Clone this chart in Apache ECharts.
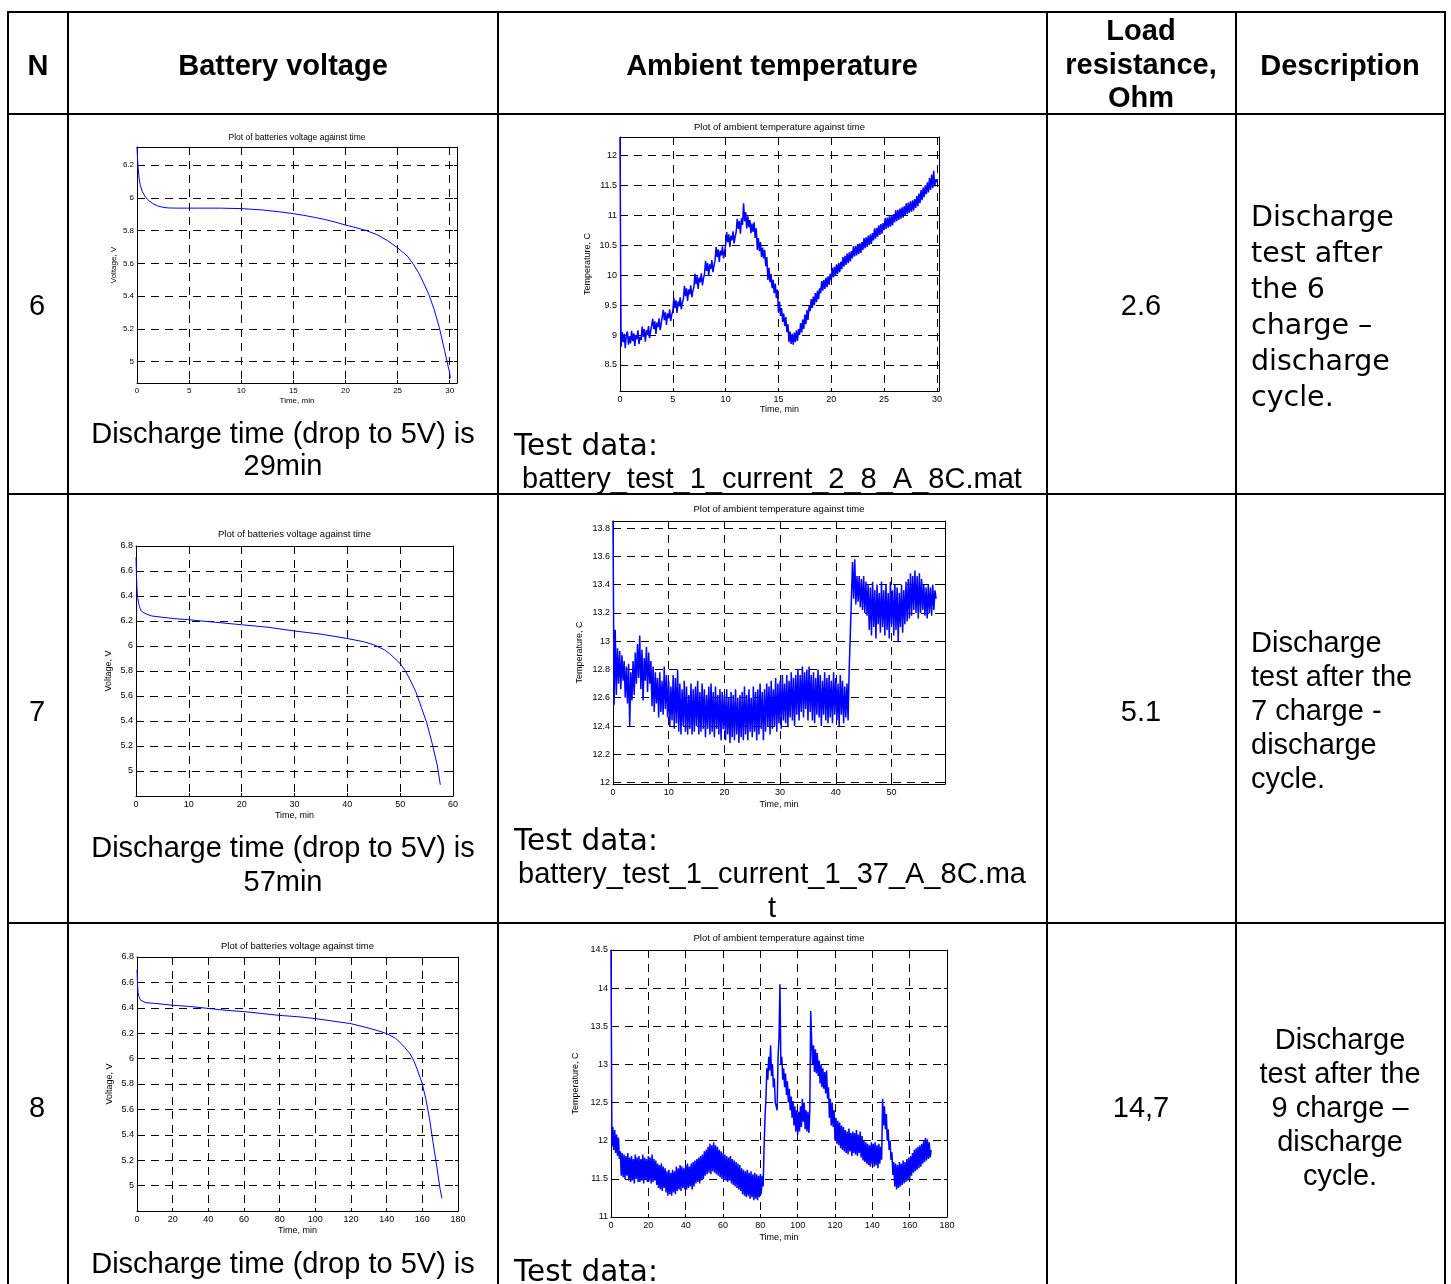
<!DOCTYPE html>
<html><head><meta charset="utf-8">
<script src="https://cdn.jsdelivr.net/npm/echarts@6/dist/echarts.min.js"></script>
<style>html,body{margin:0;padding:0;background:#fff}#c{width:1451px;height:1284px}</style>
</head><body><div id="c"></div><script>
// ---------------- DATA ----------------
// Row 6: battery voltage (V) vs time (min)
const volt6Time = [0, 0.05, 0.1, 0.2, 0.3, 0.5, 0.75, 1, 1.5, 2, 2.5, 3, 4, 5, 6, 8, 10, 12, 14, 15, 16, 17, 18, 19, 20, 21, 22, 23, 24, 24.5, 25, 25.5, 26, 26.5, 27, 27.5, 28, 28.5, 29, 29.5, 30, 30.05];
const volt6Values = [6.31, 6.24, 6.19, 6.12, 6.08, 6.04, 6.01, 5.99, 5.965, 5.95, 5.942, 5.938, 5.937, 5.937, 5.937, 5.937, 5.934, 5.926, 5.912, 5.903, 5.893, 5.881, 5.868, 5.852, 5.834, 5.818, 5.80, 5.776, 5.74, 5.718, 5.695, 5.668, 5.64, 5.595, 5.545, 5.48, 5.41, 5.32, 5.21, 5.07, 4.93, 4.90];
// Row 7
const volt7Time = [0, 0.1, 0.2, 0.3, 0.5, 0.7, 1, 1.5, 2, 3, 5, 7, 10, 15, 20, 25, 30, 35, 40, 43, 45, 46, 47, 48, 49, 50, 51, 52, 53, 54, 55, 56, 57, 57.6];
const volt7Values = [6.71, 6.55, 6.45, 6.39, 6.34, 6.31, 6.28, 6.265, 6.255, 6.24, 6.23, 6.22, 6.21, 6.19, 6.17, 6.15, 6.12, 6.095, 6.06, 6.035, 6.01, 5.99, 5.97, 5.94, 5.90, 5.86, 5.80, 5.72, 5.63, 5.51, 5.39, 5.23, 5.05, 4.89];
// Row 8
const volt8Time = [0, 0.3, 0.6, 1, 2, 3, 5, 10, 20, 30, 40, 50, 60, 70, 80, 90, 100, 110, 120, 130, 135, 140, 145, 148, 150, 153, 155, 157, 159, 160, 162, 164, 166, 168, 170, 171];
const volt8Values = [6.70, 6.58, 6.52, 6.49, 6.46, 6.45, 6.44, 6.435, 6.42, 6.41, 6.395, 6.38, 6.37, 6.355, 6.34, 6.33, 6.315, 6.295, 6.275, 6.24, 6.22, 6.197, 6.16, 6.12, 6.09, 6.04, 5.99, 5.92, 5.84, 5.80, 5.68, 5.53, 5.34, 5.16, 4.97, 4.90];

// Ambient temperature (C), recorded at a fixed sampling interval (min)
const temp6SampleMin = 0.1;
const temp6Values = [
 12.30, 8.80, 9.05, 8.88, 9.02, 8.78, 9.00, 9.06, 8.84, 8.98,
 8.86, 9.07, 8.90, 9.03, 8.82, 9.00, 8.93, 9.08, 8.85, 8.97,
 8.92, 9.14, 8.97, 9.10, 8.89, 9.08, 9.00, 9.15, 8.95, 9.06,
 9.05, 9.27, 9.10, 9.23, 9.02, 9.21, 9.13, 9.28, 9.08, 9.19,
 9.20, 9.42, 9.25, 9.38, 9.17, 9.36, 9.28, 9.43, 9.23, 9.34,
 9.40, 9.62, 9.45, 9.58, 9.37, 9.56, 9.48, 9.63, 9.43, 9.54,
 9.60, 9.82, 9.65, 9.78, 9.57, 9.76, 9.68, 9.83, 9.63, 9.74,
 9.80, 10.02, 9.85, 9.98, 9.77, 9.96, 9.88, 10.03, 9.83, 9.94,
 10.02, 10.24, 10.07, 10.20, 9.99, 10.18, 10.10, 10.25, 10.05, 10.16,
 10.25, 10.47, 10.30, 10.43, 10.22, 10.41, 10.33, 10.48, 10.28, 10.39,
 10.50, 10.72, 10.55, 10.68, 10.47, 10.66, 10.58, 10.73, 10.53, 10.64,
 10.72, 10.94, 10.77, 10.90, 10.69, 10.95, 10.84, 11.20, 10.90, 11.05,
 10.78, 10.98, 10.80, 10.92, 10.70, 10.86, 10.72, 10.88, 10.62, 10.78,
 10.42, 10.62, 10.40, 10.55, 10.30, 10.46, 10.28, 10.42, 10.15, 10.30,
 9.92, 10.12, 9.88, 10.02, 9.78, 9.92, 9.70, 9.86, 9.62, 9.76,
 9.38, 9.56, 9.32, 9.45, 9.22, 9.36, 9.15, 9.30, 9.05, 9.18,
 8.88, 9.06, 8.85, 9.02, 8.84, 9.04, 8.88, 9.08, 8.90, 9.10,
 9.00, 9.20, 9.04, 9.26, 9.10, 9.34, 9.18, 9.42, 9.25, 9.48,
 9.40, 9.60, 9.45, 9.64, 9.50, 9.70, 9.55, 9.74, 9.60, 9.78,
 9.70, 9.90, 9.74, 9.92, 9.77, 9.96, 9.80, 9.98, 9.84, 10.02,
 9.92, 10.12, 9.96, 10.14, 9.99, 10.18, 10.02, 10.20, 10.05, 10.22,
 10.10, 10.30, 10.14, 10.32, 10.17, 10.36, 10.20, 10.38, 10.23, 10.40,
 10.28, 10.48, 10.31, 10.49, 10.33, 10.52, 10.35, 10.53, 10.37, 10.55,
 10.42, 10.62, 10.45, 10.63, 10.47, 10.66, 10.50, 10.68, 10.52, 10.70,
 10.58, 10.78, 10.61, 10.79, 10.64, 10.83, 10.67, 10.85, 10.69, 10.87,
 10.75, 10.95, 10.77, 10.96, 10.79, 10.98, 10.81, 11.00, 10.83, 11.02,
 10.88, 11.08, 10.90, 11.09, 10.92, 11.11, 10.94, 11.13, 10.96, 11.15,
 11.00, 11.20, 11.02, 11.21, 11.04, 11.23, 11.06, 11.25, 11.08, 11.27,
 11.12, 11.32, 11.15, 11.36, 11.20, 11.42, 11.25, 11.46, 11.30, 11.50,
 11.35, 11.55, 11.38, 11.62, 11.42, 11.68, 11.45, 11.74, 11.48, 11.60,
 11.55];
const temp7SampleMin = 0.2;
const temp7Values = [
 13.85, 12.55, 13.08, 12.62, 12.95,  12.70, 12.93, 12.66, 12.90, 12.72,
 12.86, 12.60, 12.82, 12.56, 12.84,  12.40, 12.78, 12.58, 12.86, 12.62,
 12.92, 12.70, 12.98, 12.74, 13.04,  12.66, 12.94, 12.58, 12.88, 12.72,
 12.96, 12.64, 12.92, 12.70, 12.86,  12.54, 12.82, 12.50, 12.78, 12.56,
 12.74, 12.46, 12.78, 12.50, 12.72,  12.48, 12.82, 12.52, 12.76, 12.46,
 12.72, 12.40, 12.68, 12.44, 12.76,  12.38, 12.74, 12.42, 12.80, 12.36,
 12.70, 12.34, 12.66, 12.40, 12.72,  12.36, 12.68, 12.34, 12.62, 12.38,
 12.70, 12.34, 12.66, 12.36, 12.68,  12.40, 12.72, 12.34, 12.64, 12.36,
 12.70, 12.38, 12.66, 12.32, 12.62,  12.38, 12.68, 12.34, 12.70, 12.36,
 12.64, 12.32, 12.68, 12.38, 12.62,  12.34, 12.66, 12.30, 12.64, 12.38,
 12.62, 12.30, 12.66, 12.34, 12.60,  12.28, 12.64, 12.32, 12.62, 12.30,
 12.66, 12.34, 12.60, 12.28, 12.62,  12.32, 12.64, 12.30, 12.68, 12.34,
 12.62, 12.30, 12.66, 12.36, 12.60,  12.32, 12.68, 12.36, 12.64, 12.30,
 12.66, 12.34, 12.70, 12.38, 12.64,  12.30, 12.66, 12.36, 12.70, 12.40,
 12.68, 12.34, 12.72, 12.38, 12.66,  12.40, 12.74, 12.36, 12.70, 12.42,
 12.72, 12.38, 12.76, 12.44, 12.70,  12.42, 12.76, 12.40, 12.72, 12.46,
 12.78, 12.44, 12.74, 12.40, 12.76,  12.48, 12.80, 12.44, 12.76, 12.50,
 12.82, 12.46, 12.78, 12.52, 12.80,  12.44, 12.82, 12.50, 12.76, 12.44,
 12.78, 12.42, 12.74, 12.48, 12.80,  12.46, 12.76, 12.40, 12.72, 12.48,
 12.78, 12.44, 12.74, 12.42, 12.76,  12.46, 12.72, 12.42, 12.78, 12.48,
 12.74, 12.44, 12.70, 12.40, 12.76,  12.48, 12.72, 12.42, 12.68, 12.46,
 12.70, 12.44, 12.80, 13.05, 13.30,  13.56, 13.30, 13.58, 13.26, 13.46,
 13.28, 13.46, 13.24, 13.44, 13.22,  13.46, 13.20, 13.42, 13.18, 13.40,
 13.08, 13.38, 13.04, 13.42, 13.10,  13.36, 13.02, 13.40, 13.12, 13.34,
 13.06, 13.42, 13.10, 13.36, 13.04,  13.40, 13.08, 13.34, 13.02, 13.42,
 13.12, 13.36, 13.04, 13.40, 13.08,  13.38, 13.00, 13.34, 13.10, 13.40,
 13.06, 13.36, 13.12, 13.42, 13.14,  13.44, 13.16, 13.48, 13.18, 13.46,
 13.22, 13.50, 13.20, 13.46, 13.16,  13.48, 13.20, 13.44, 13.22, 13.40,
 13.18, 13.38, 13.16, 13.40, 13.20,  13.38, 13.18, 13.40, 13.22, 13.36,
 13.30];
const temp8SampleMin = 0.5;
const temp8Values = [
 14.50, 11.92, 12.18, 11.88, 12.14, 11.84, 12.08, 11.80, 12.04, 11.76,
 11.86, 11.54, 11.84, 11.52, 11.82, 11.50, 11.80, 11.54, 11.84, 11.48,
 11.78, 11.46, 11.80, 11.48, 11.76, 11.44, 11.82, 11.50, 11.78, 11.46,
 11.80, 11.46, 11.76, 11.48, 11.82, 11.44, 11.78, 11.50, 11.76, 11.46,
 11.80, 11.48, 11.78, 11.44, 11.82, 11.46, 11.76, 11.48, 11.74, 11.42,
 11.70, 11.38, 11.68, 11.36, 11.70, 11.34, 11.66, 11.38, 11.64, 11.32,
 11.60, 11.28, 11.62, 11.30, 11.58, 11.28, 11.62, 11.32, 11.60, 11.30,
 11.66, 11.34, 11.64, 11.36, 11.68, 11.34, 11.66, 11.38, 11.64, 11.36,
 11.68, 11.36, 11.70, 11.38, 11.66, 11.40, 11.70, 11.36, 11.72, 11.40,
 11.74, 11.44, 11.76, 11.46, 11.78, 11.44, 11.80, 11.48, 11.82, 11.50,
 11.86, 11.54, 11.88, 11.56, 11.92, 11.58, 11.96, 11.56, 11.94, 11.60,
 11.98, 11.58, 11.94, 11.56, 11.92, 11.54, 11.88, 11.52, 11.86, 11.50,
 11.84, 11.50, 11.82, 11.48, 11.80, 11.46, 11.78, 11.48, 11.80, 11.44,
 11.76, 11.42, 11.74, 11.40, 11.72, 11.38, 11.70, 11.36, 11.68, 11.34,
 11.64, 11.30, 11.62, 11.28, 11.60, 11.26, 11.62, 11.28, 11.58, 11.24,
 11.60, 11.26, 11.56, 11.22, 11.58, 11.24, 11.56, 11.22, 11.54, 11.26,
 11.56, 11.30, 11.54, 11.40, 11.90, 12.30, 12.55, 12.95, 12.80, 13.10,
 12.92, 13.25, 12.85, 13.00, 12.70, 12.82, 12.50, 12.45, 12.40, 13.10,
 13.35, 14.05, 13.00, 13.10, 12.80, 12.95, 12.70, 12.88, 12.60, 12.78,
 12.50, 12.68, 12.40, 12.58, 12.30, 12.52, 12.20, 12.45, 12.12, 12.40,
 12.08, 12.38, 12.12, 12.45, 12.18, 12.55, 12.25, 12.50, 12.15, 12.40,
 12.12, 12.38, 12.10, 12.40, 13.70, 13.30, 13.00, 13.25, 12.90, 13.20,
 12.88, 13.15, 12.85, 13.05, 12.75, 13.00, 12.70, 12.95, 12.68, 12.90,
 12.62, 12.92, 12.55, 12.70, 12.30, 12.55, 12.20, 12.50, 12.18, 12.40,
 12.00, 12.30, 11.96, 12.26, 11.94, 12.24, 11.90, 12.20, 11.88, 12.18,
 11.86, 12.14, 11.84, 12.12, 11.82, 12.16, 11.86, 12.10, 11.80, 12.12,
 11.84, 12.10, 11.82, 12.14, 11.80, 12.08, 11.84, 12.12, 11.78, 12.06,
 11.74, 12.00, 11.72, 11.98, 11.70, 11.96, 11.68, 11.94, 11.66, 11.98,
 11.70, 11.96, 11.66, 11.98, 11.68, 11.94, 11.64, 11.96, 11.70, 11.92,
 11.75, 12.55, 12.20, 12.45, 12.15, 12.35, 12.00, 12.15, 11.88, 12.00,
 11.75, 11.85, 11.55, 11.72, 11.40, 11.70, 11.36, 11.68, 11.38, 11.72,
 11.40, 11.70, 11.42, 11.74, 11.44, 11.72, 11.46, 11.76, 11.48, 11.78,
 11.50, 11.80, 11.54, 11.84, 11.58, 11.88, 11.60, 11.90, 11.62, 11.92,
 11.64, 11.94, 11.66, 11.96, 11.70, 12.00, 11.72, 12.04, 11.74, 12.02,
 11.76, 11.98, 11.78, 11.88];

// Tick values
const volt6XTicks = [0, 5, 10, 15, 20, 25, 30];
const volt6YTicks = [5, 5.2, 5.4, 5.6, 5.8, 6, 6.2];
const temp6XTicks = [0, 5, 10, 15, 20, 25, 30];
const temp6YTicks = [8.5, 9, 9.5, 10, 10.5, 11, 11.5, 12];
const volt7XTicks = [0, 10, 20, 30, 40, 50, 60];
const volt7YTicks = [5, 5.2, 5.4, 5.6, 5.8, 6, 6.2, 6.4, 6.6, 6.8];
const temp7XTicks = [0, 10, 20, 30, 40, 50];
const temp7YTicks = [12, 12.2, 12.4, 12.6, 12.8, 13, 13.2, 13.4, 13.6, 13.8];
const volt8XTicks = [0, 20, 40, 60, 80, 100, 120, 140, 160, 180];
const volt8YTicks = [5, 5.2, 5.4, 5.6, 5.8, 6, 6.2, 6.4, 6.6, 6.8];
const temp8XTicks = [0, 20, 40, 60, 80, 100, 120, 140, 160, 180];
const temp8YTicks = [11, 11.5, 12, 12.5, 13, 13.5, 14, 14.5];

// Table texts
const headers = ['N', 'Battery voltage', 'Ambient temperature', 'Load\nresistance,\nOhm', 'Description'];
const rowNumbers = ['6', '7', '8'];
const loadResistance = ['2.6', '5.1', '14,7'];
const dischargeTexts = ['Discharge time (drop to 5V) is\n29min', 'Discharge time (drop to 5V) is\n57min', 'Discharge time (drop to 5V) is'];
const testFiles = [' battery_test_1_current_2_8_A_8C.mat', 'battery_test_1_current_1_37_A_8C.ma', ''];
const descriptions = ['Discharge\ntest after\nthe 6\ncharge \u2013\ndischarge\ncycle.',
  'Discharge\ntest after the\n7 charge -\ndischarge\ncycle.',
  'Discharge\ntest after the\n9 charge \u2013\ndischarge\ncycle.'];
const voltTitle = 'Plot of batteries voltage against time';
const tempTitle = 'Plot of ambient temperature against time';

// ---------------- BUILD ----------------
const ARIAL = '"Liberation Sans", Arial, Helvetica, sans-serif';
const VERD = '"DejaVu Sans", Verdana, sans-serif';
const zip = (xs, ys) => xs.map((x, i) => [x, ys[i]]);
const sampled = (vals, dt) => vals.map((v, i) => [Math.round(i * dt * 100) / 100, v]);
const fmt = v => String(parseFloat(Number(v).toFixed(3)));

const plots = [
  {box: [137, 147, 320, 236], x: [0, 30.7], y: [4.87, 6.31], xt: volt6XTicks, yt: volt6YTicks, fs: 8, yName: 'Voltage, V', xGap: 14, yGap: 19,
   title: voltTitle, titleY: 138, lw: 1, data: zip(volt6Time, volt6Values)},
  {box: [620, 137, 319, 254], x: [0, 30.2], y: [8.066, 12.305], xt: temp6XTicks, yt: temp6YTicks, fs: 9, yName: 'Temperature, C', xGap: 14, yGap: 28,
   title: tempTitle, titleY: 127, lw: 1.5, data: sampled(temp6Values, temp6SampleMin)},
  {box: [136, 546, 317, 250], x: [0, 60], y: [4.8, 6.8], xt: volt7XTicks, yt: volt7YTicks, fs: 9, yName: 'Voltage, V', xGap: 15, yGap: 23,
   title: voltTitle, titleY: 534, lw: 1, data: zip(volt7Time, volt7Values)},
  {box: [613, 521, 332, 263], x: [0, 59.6], y: [11.99, 13.85], xt: temp7XTicks, yt: temp7YTicks, fs: 9, yName: 'Temperature, C', xGap: 16, yGap: 29,
   title: tempTitle, titleY: 509, lw: 1.5, data: sampled(temp7Values, temp7SampleMin)},
  {box: [137, 957, 321, 254], x: [0, 180], y: [4.8, 6.8], xt: volt8XTicks, yt: volt8YTicks, fs: 9, yName: 'Voltage, V', xGap: 15, yGap: 23,
   title: voltTitle, titleY: 946, lw: 1, data: zip(volt8Time, volt8Values)},
  {box: [611, 950, 336, 267], x: [0, 180], y: [11, 14.5], xt: temp8XTicks, yt: temp8YTicks, fs: 9, yName: 'Temperature, C', xGap: 16, yGap: 31,
   title: tempTitle, titleY: 938, lw: 1.5, data: sampled(temp8Values, temp8SampleMin)}
];

const grid = [], xAxis = [], yAxis = [], series = [], graphic = [];
const dash = [8, 6];
plots.forEach((p, g) => {
  grid.push({left: p.box[0], top: p.box[1], width: p.box[2], height: p.box[3], containLabel: false});
  const lineBlack = {show: true, onZero: false, lineStyle: {color: '#000', width: 1}};
  const lab = {fontSize: p.fs, color: '#000', fontFamily: ARIAL};
  xAxis.push({type: 'value', gridIndex: g, position: 'bottom', min: p.x[0], max: p.x[1],
    axisLine: lineBlack,
    axisTick: {show: true, inside: true, length: 3, customValues: p.xt, lineStyle: {color: '#000'}},
    axisLabel: Object.assign({customValues: p.xt, margin: 4, formatter: fmt}, lab),
    splitLine: {show: true, lineStyle: {color: '#000', width: 1, type: dash}},
    name: 'Time, min', nameLocation: 'middle', nameGap: p.xGap, nameTextStyle: lab});
  xAxis.push({type: 'value', gridIndex: g, position: 'top', min: p.x[0], max: p.x[1],
    axisLine: lineBlack,
    axisTick: {show: true, inside: true, length: 3, customValues: p.xt, lineStyle: {color: '#000'}},
    axisLabel: {show: false}, splitLine: {show: false}});
  yAxis.push({type: 'value', gridIndex: g, position: 'left', min: p.y[0], max: p.y[1],
    axisLine: lineBlack,
    axisTick: {show: true, inside: true, length: 3, customValues: p.yt, lineStyle: {color: '#000'}},
    axisLabel: Object.assign({customValues: p.yt, margin: 3, formatter: fmt}, lab),
    splitLine: {show: true, lineStyle: {color: '#000', width: 1, type: dash}},
    name: p.yName, nameLocation: 'middle', nameGap: p.yGap, nameRotate: 90, nameTextStyle: lab});
  yAxis.push({type: 'value', gridIndex: g, position: 'right', min: p.y[0], max: p.y[1],
    axisLine: lineBlack,
    axisTick: {show: true, inside: true, length: 3, customValues: p.yt, lineStyle: {color: '#000'}},
    axisLabel: {show: false}, splitLine: {show: false}});
  series.push({type: 'line', xAxisIndex: 2 * g, yAxisIndex: 2 * g, data: p.data, showSymbol: false,
    symbol: 'none', clip: true, animation: false, lineStyle: {color: '#0000ff', width: p.lw}});
  graphic.push({type: 'text', x: p.box[0] + p.box[2] / 2, y: p.titleY, silent: true,
    style: {text: p.title, fontSize: p.fs + 0.5, fontFamily: ARIAL, fill: '#000', align: 'center', verticalAlign: 'middle'}});
});

// Table lines
const colX = [8, 68, 498, 1047, 1236, 1445];
const rowY = [12, 114, 494, 923];
const tableBottom = 1290;
colX.forEach(x => graphic.push({type: 'line', silent: true, shape: {x1: x, y1: 11, x2: x, y2: tableBottom}, style: {stroke: '#000', lineWidth: 2}}));
rowY.forEach(y => graphic.push({type: 'line', silent: true, shape: {x1: 7, y1: y, x2: 1446, y2: y}, style: {stroke: '#000', lineWidth: 2}}));

function txt(text, x, y, o) {
  graphic.push({type: 'text', x: x, y: y, silent: true,
    style: Object.assign({text: text, fill: '#000', fontFamily: ARIAL, fontSize: 29, align: 'center', verticalAlign: 'middle'}, o || {})});
}
// Header
const headX = [38, 283, 772, 1141, 1340];
headers.forEach((h, i) => txt(h, headX[i], i === 3 ? 65.5 : 66.5, {fontWeight: 'bold', fontSize: 29, lineHeight: 33.5}));
// Rows
const rowCY = [307, 713, 1109];
rowNumbers.forEach((t, i) => txt(t, 37, rowCY[i]));
loadResistance.forEach((t, i) => txt(t, 1141, rowCY[i]));
// Discharge texts
txt(dischargeTexts[0], 283, 451, {lineHeight: 32});
txt(dischargeTexts[1], 283, 866, {lineHeight: 34});
txt(dischargeTexts[2], 283, 1265);
// Test data
txt('Test data:', 514, 447, {fontFamily: VERD, fontSize: 29.5, align: 'left'});
txt(testFiles[0], 514, 480, {align: 'left'});
txt('Test data:', 514, 842, {fontFamily: VERD, fontSize: 29.5, align: 'left'});
txt(testFiles[1] + '\nt', 772, 892, {lineHeight: 34});
txt('Test data:', 514, 1273, {fontFamily: VERD, fontSize: 29.5, align: 'left'});
// Descriptions
txt(descriptions[0], 1251, 309, {fontFamily: VERD, fontSize: 28.5, align: 'left', lineHeight: 36});
txt(descriptions[1], 1251, 712, {align: 'left', lineHeight: 34});
txt(descriptions[2], 1340, 1109, {lineHeight: 34});

const chart = echarts.init(document.getElementById('c'), null, {renderer: 'canvas', width: 1451, height: 1284});
chart.setOption({
  backgroundColor: '#fff',
  animation: false,
  grid: grid, xAxis: xAxis, yAxis: yAxis, series: series, graphic: graphic
});
</script></body></html>
